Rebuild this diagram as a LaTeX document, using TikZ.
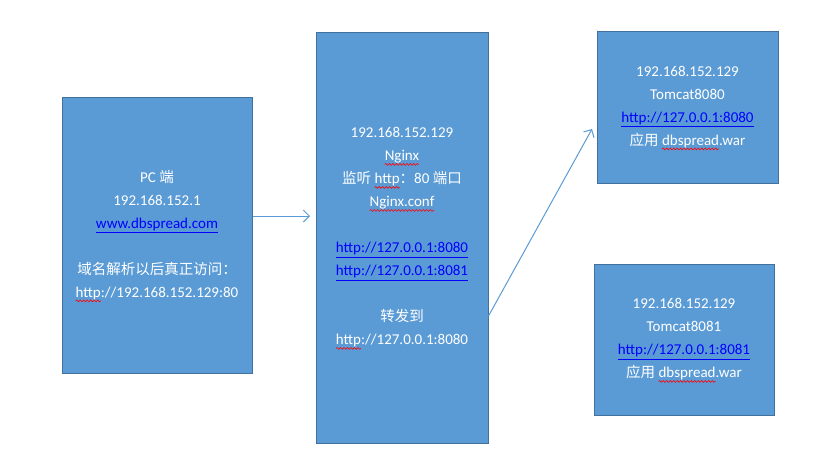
\documentclass[tikz,border=0pt]{standalone}
\usepackage{fontspec}
\setmainfont{Carlito}
\newfontfamily\cjk{Noto Sans CJK SC}
\usetikzlibrary{arrows.meta,decorations.pathmorphing}
\definecolor{boxfill}{HTML}{5B9BD5}
\definecolor{boxline}{HTML}{41719C}
\definecolor{linkblue}{HTML}{0000FF}
\newsavebox\wavebox
\newcommand\redwave[1]{\sbox\wavebox{#1}\leavevmode\usebox\wavebox%
  \tikz[overlay,baseline=0pt]\draw[red,line width=0.6pt,decorate,decoration={snake,amplitude=0.9pt,segment length=3.5pt}] (-\wd\wavebox,-3.5pt) -- (0pt,-3.5pt);}
\newcommand\lnk[1]{\textcolor{linkblue}{\underline{#1}}}
\newcommand\zh[1]{{\cjk\fontsize{14.5}{23}\selectfont #1}}
\tikzset{
  box/.style={draw=boxline, fill=boxfill, line width=1pt, text=white, align=center, inner sep=0pt,
    font=\fontsize{15}{23}\selectfont},
  arr/.style={draw=boxfill, line width=1pt, -{Straight Barb[length=6pt,width=12pt]}}
}
\begin{document}
\begin{tikzpicture}[x=1pt,y=-1pt]
\useasboundingbox (0,0) rectangle (834,475);
\node[box, minimum width=190pt, minimum height=276pt] (pc) at (157,235)
  {PC \zh{端}\\192.168.152.1\\\lnk{www.dbspread.com}\\[23pt]\zh{域名解析以后真正访问：}\\\redwave{http}://192.168.152.129:80};
\node[box, minimum width=172pt, minimum height=411pt] (nginx) at (402,237.5)
  {192.168.152.129\\\redwave{Nginx}\\\zh{监听} \redwave{http}\zh{：}80 \zh{端口}\\\redwave{Nginx.conf}\\[23pt]\lnk{http://127.0.0.1:8080}\\\lnk{http://127.0.0.1:8081}\\[23pt]\zh{转发到}\\\redwave{http}://127.0.0.1:8080};
\node[box, minimum width=181pt, minimum height=152pt] (t1) at (687.5,107)
  {192.168.152.129\\Tomcat8080\\\lnk{http://127.0.0.1:8080}\\\zh{应用} \redwave{dbspread}.war};
\node[box, minimum width=180pt, minimum height=151pt] (t2) at (684,339.5)
  {192.168.152.129\\Tomcat8081\\\lnk{http://127.0.0.1:8081}\\\zh{应用} \redwave{dbspread}.war};
\coordinate (a1e) at (310,216);
\coordinate (a2s) at (488,316);
\coordinate (a2e) at (592,129);
\draw[arr] (pc.east |- a1e) -- (a1e);
\draw[arr] (nginx.east |- a2s) -- (a2e);
\end{tikzpicture}
\end{document}
